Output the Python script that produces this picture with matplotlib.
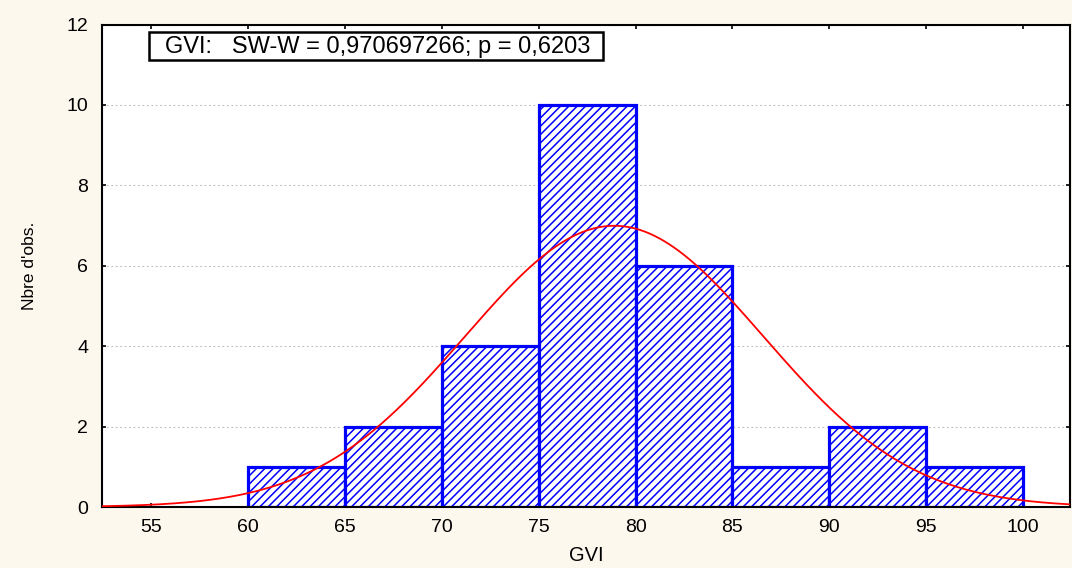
import numpy as np
import matplotlib
matplotlib.use("Agg")
import matplotlib.pyplot as plt
from matplotlib.patches import Rectangle

plt.rcParams['font.family'] = ['Liberation Sans', 'DejaVu Sans']
plt.rcParams['hatch.linewidth'] = 1.1

# Histogram of GVI: bin edges and observed counts
bin_edges = [60, 65, 70, 75, 80, 85, 90, 95, 100]
counts = [1, 2, 4, 10, 6, 1, 2, 1]

# Fitted normal curve parameters
mean_gvi = 78.9
sd_gvi = 7.7

x_ticks = [55, 60, 65, 70, 75, 80, 85, 90, 95, 100]
y_ticks = [0, 2, 4, 6, 8, 10, 12]
stats_text = "GVI:   SW-W = 0,970697266; p = 0,6203"

W, H = 1072, 568
fig = plt.figure(figsize=(W / 100, H / 100), dpi=100)
fig.patch.set_facecolor('#fdf8ee')
ax = fig.add_axes([102 / W, 1 - 507 / H, (1070 - 102) / W, (507 - 24.5) / H])
ax.set_facecolor('white')

widths = np.diff(bin_edges)
ax.bar(bin_edges[:-1], counts, width=widths, align='edge',
       facecolor='white', edgecolor='#0000ff', linewidth=2.3,
       hatch='////', zorder=2)

n_total = sum(counts)
bw = widths[0]
xs = np.linspace(52.47, 102.42, 600)
ys = n_total * bw / (sd_gvi * np.sqrt(2 * np.pi)) * np.exp(-0.5 * ((xs - mean_gvi) / sd_gvi) ** 2)
ax.plot(xs, ys, color='#ff0000', linewidth=1.3, zorder=3)

ax.set_xlim(52.47, 102.42)
ax.set_ylim(0, 12)
ax.set_xticks(x_ticks)
ax.set_yticks(y_ticks)
ax.tick_params(direction='in', length=3, width=1.2, top=True, right=True,
               labelsize=14)
ax.tick_params(axis='y', pad=10)
ax.tick_params(axis='x', pad=9)
ax.yaxis.grid(True, linestyle=(0, (1.5, 2.5)), color='#bbbbbb', linewidth=0.8, zorder=0)
ax.set_axisbelow(True)
for s in ax.spines.values():
    s.set_linewidth(1.5)
    s.set_color('black')

ax.set_xlabel('GVI', fontsize=14.5, labelpad=7)
ax.set_ylabel("Nbre d'obs.", fontsize=12.5, labelpad=21)

# statistics box
fig.patches.append(Rectangle((149 / W, 1 - 60 / H), (603 - 149) / W, 28 / H,
                             transform=fig.transFigure, facecolor='white',
                             edgecolor='black', linewidth=1.8, zorder=5))
fig.text(378 / W, 1 - 46.5 / H, stats_text, fontsize=17, va='center', ha='center', zorder=6)

fig.savefig('out.png', dpi=100, facecolor=fig.get_facecolor())
